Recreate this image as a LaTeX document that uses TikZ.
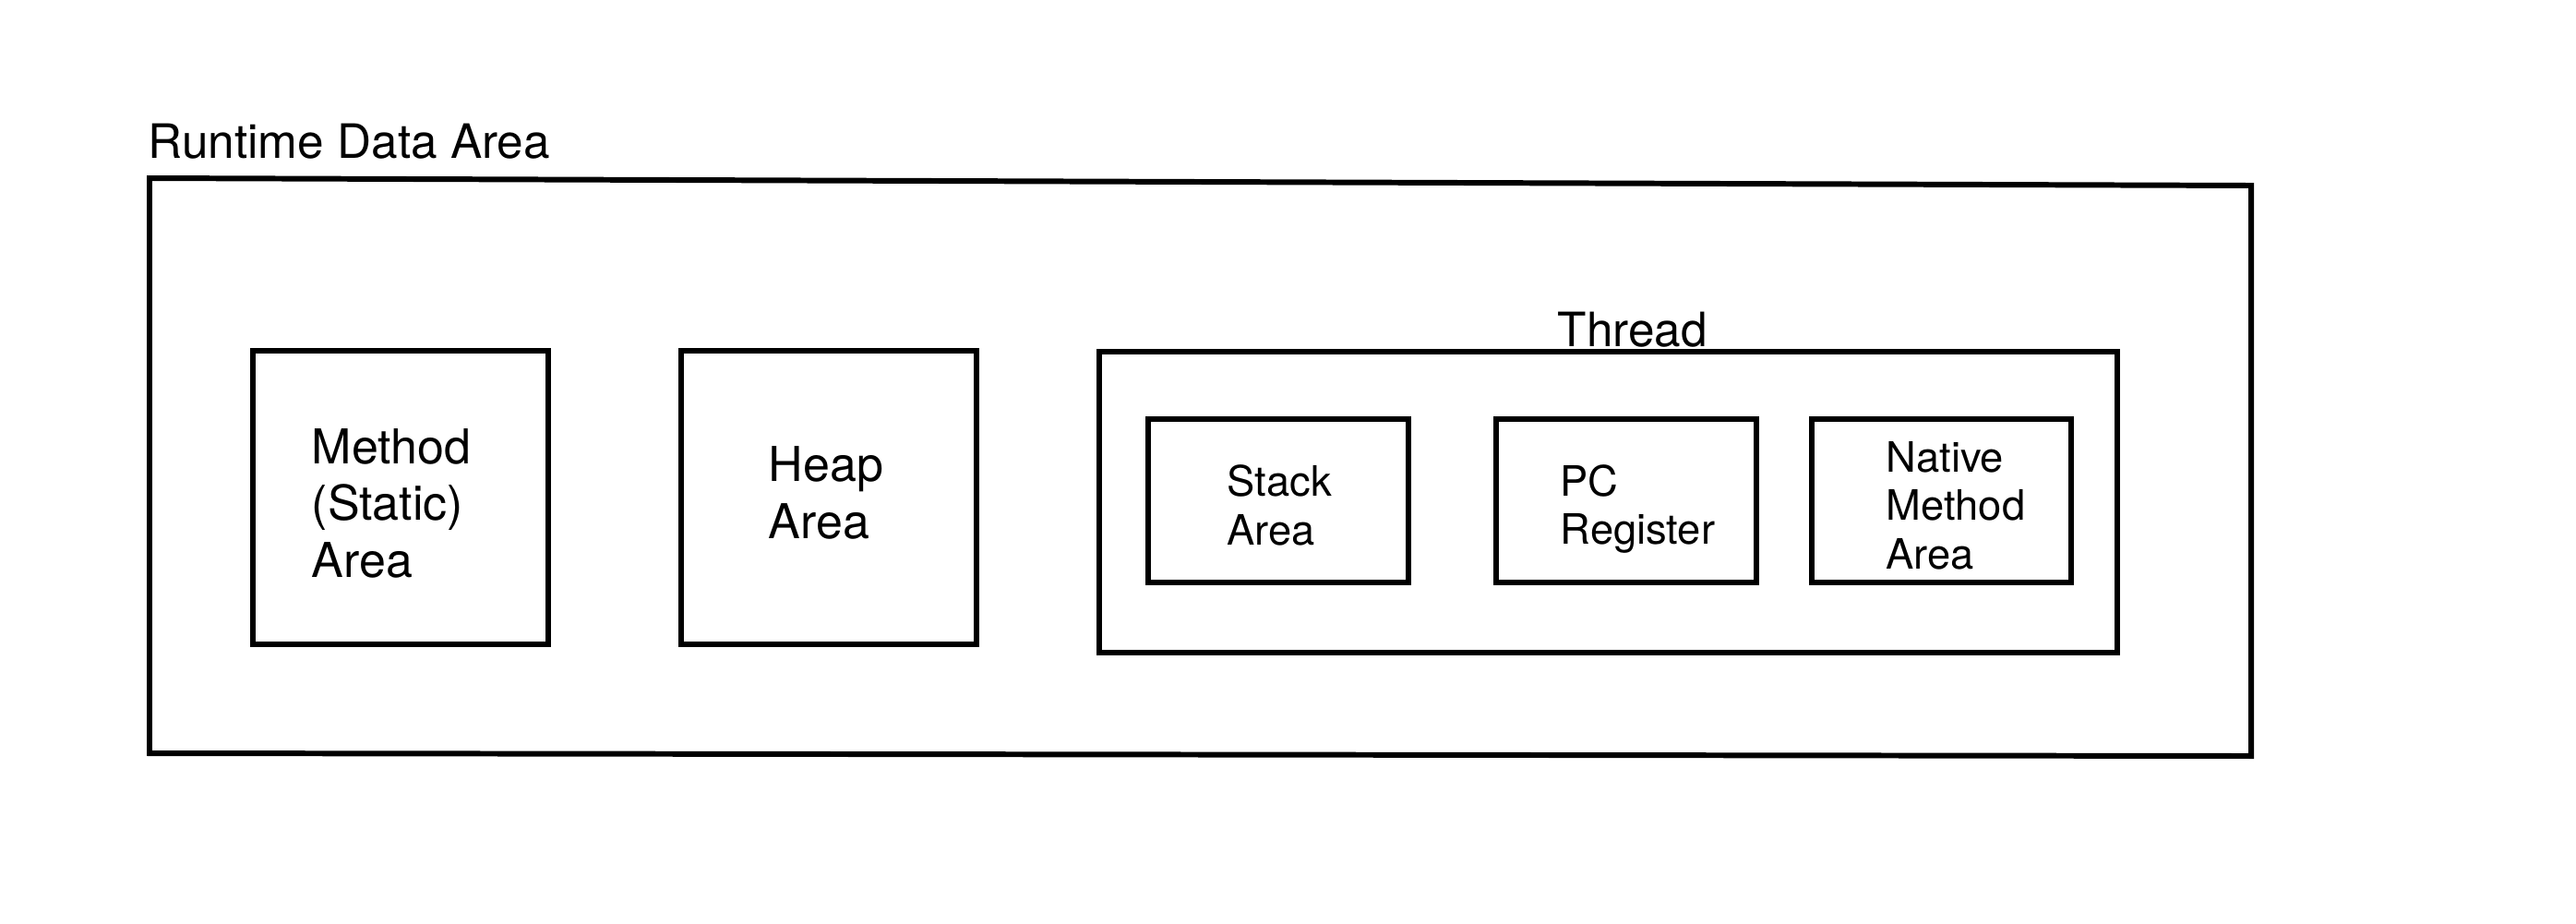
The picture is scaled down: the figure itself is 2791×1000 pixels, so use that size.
\documentclass[tikz,border=0pt]{standalone}
\usepackage{fontspec}
\setmainfont{TeX Gyre Heros}
\usetikzlibrary{positioning}

\tikzset{
  area/.style={draw, line width=1.7pt, outer sep=0pt, inner sep=0pt},
  bigtext/.style={inner sep=0pt, align=left, font=\fontsize{14.8}{17.5}\selectfont},
  smalltext/.style={inner sep=0pt, align=left, font=\fontsize{12.9}{14.9}\selectfont},
  title/.style={inner sep=0pt, anchor=base west, font=\fontsize{14.6}{17.5}\selectfont}
}

\begin{document}
\begin{tikzpicture}[x=0.1mm, y=-0.1mm]
    \useasboundingbox (0,0) rectangle (2791,1000);
    % Runtime data area
    \draw[line width=1.7pt] (162,193) -- (2439,201) -- (2439,819) -- (162,816) -- cycle;
    \node[title] (rdalabel) at (160,171) {Runtime Data Area};
    % Method area
    \node[area, minimum width=3.2cm, minimum height=3.18cm] (method) at (434,539) {};
    \node[bigtext, right=0.63cm of method.west, yshift=-0.06cm] (methodtext) {Method\\(Static)\\Area};
    % Heap area
    \node[area, minimum width=3.2cm, minimum height=3.18cm] (heap) at (898,539) {};
    \node[bigtext, right=0.94cm of heap.west, yshift=0.05cm] (heaptext) {Heap\\Area};
    % Thread
    \node[area, minimum width=11.03cm, minimum height=3.26cm] (thread) at (1742.5,544) {};
    \node[title] (threadlabel) at (1687,375) {Thread};
    % Stack area
    \node[area, minimum width=2.82cm, minimum height=1.77cm] (stack) at (1385,542.5) {};
    \node[smalltext, right=0.85cm of stack.west, yshift=-0.05cm] (stacktext) {Stack\\Area};
    % PC register
    \node[area, minimum width=2.82cm, minimum height=1.77cm] (pc) at (1762,542.5) {};
    \node[smalltext, right=0.69cm of pc.west, yshift=-0.09cm] (pctext) {PC\\Register};
    % Native method area
    \node[area, minimum width=2.81cm, minimum height=1.77cm] (native) at (2103.5,542.5) {};
    \node[smalltext, right=0.80cm of native.west, yshift=-0.05cm] (nativetext) {Native\\Method\\Area};
\end{tikzpicture}
\end{document}
